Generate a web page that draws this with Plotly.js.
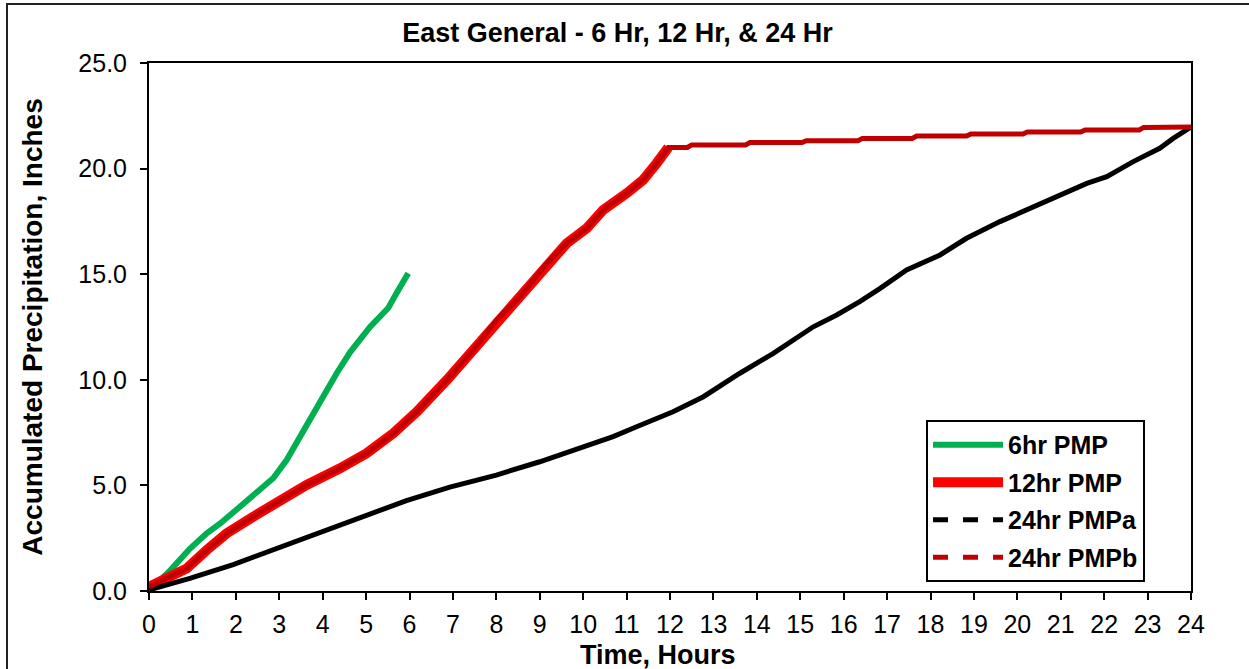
<!DOCTYPE html>
<html>
<head>
<meta charset="utf-8">
<script src="https://cdn.plot.ly/plotly-3.0.1.min.js"></script>
<style>
  html, body { margin: 0; padding: 0; background: #ffffff; }
  #wrap { position: relative; width: 1249px; height: 669px; overflow: hidden; }
  #chart { width: 1249px; height: 669px; }
  #frame { position: absolute; left: 6px; top: 3px; width: 1400px; height: 800px;
           border-left: 2px solid #222; border-top: 2px solid #222; pointer-events: none; }
</style>
</head>
<body>
<div id="wrap">
  <div id="chart"></div>
  <div id="frame"></div>
</div>
<script>
// ---- Data ----
var seriesNames = ["6hr PMP", "12hr PMP", "24hr PMPa", "24hr PMPb"];

var time6 = [0, 0.25, 0.5, 0.94, 1.33, 1.64, 2.1, 2.33, 2.86, 3.17, 3.4, 3.78, 4.01, 4.32, 4.63, 5.09, 5.51, 5.7, 5.97];
var precip6 = [0.1, 0.5, 1.0, 2.0, 2.73, 3.2, 4.0, 4.39, 5.34, 6.2, 7.05, 8.41, 9.2, 10.3, 11.3, 12.5, 13.4, 14.1, 15.05];

var time12 = [0, 0.56, 0.87, 1.33, 1.79, 2.4, 3.02, 3.63, 4.4, 5.01, 5.63, 6.17, 6.86, 7.47, 8.01, 8.54, 9.16, 9.62, 10.08, 10.46, 11.0, 11.38, 11.69, 11.96];
var precip12 = [0.2, 0.76, 1.07, 1.94, 2.73, 3.52, 4.31, 5.02, 5.81, 6.52, 7.47, 8.49, 9.99, 11.41, 12.83, 13.93, 15.51, 16.46, 17.17, 18.04, 18.83, 19.46, 20.25, 21.0];

var time24a = [0, 0.94, 1.94, 2.94, 3.94, 4.94, 5.93, 6.93, 8.0, 9.0, 9.77, 10.69, 11.23, 12.07, 12.77, 13.61, 14.38, 15.3, 15.84, 16.37, 16.84, 17.45, 18.22, 18.83, 19.6, 20.37, 20.98, 21.6, 22.06, 22.67, 23.28, 23.59, 24];
var precip24a = [0.05, 0.6, 1.25, 2.0, 2.78, 3.55, 4.28, 4.92, 5.49, 6.12, 6.68, 7.31, 7.78, 8.49, 9.2, 10.31, 11.25, 12.51, 13.07, 13.7, 14.33, 15.2, 15.91, 16.7, 17.49, 18.2, 18.75, 19.3, 19.62, 20.33, 20.96, 21.43, 21.97];

// 24hr PMPb follows the 12hr curve, then continues with these late steps
var time24bTail = [12.4, 12.5, 13.74, 13.84, 15.04, 15.14, 16.33, 16.43, 17.58, 17.68, 18.83, 18.93, 20.13, 20.23, 21.46, 21.56, 22.81, 22.91, 24];
var precip24bTail = [21.0, 21.12, 21.12, 21.23, 21.23, 21.32, 21.32, 21.43, 21.43, 21.54, 21.54, 21.64, 21.64, 21.73, 21.73, 21.83, 21.83, 21.95, 21.97];

var xTicks = [0,1,2,3,4,5,6,7,8,9,10,11,12,13,14,15,16,17,18,19,20,21,22,23,24];
var yTicks = [0, 5, 10, 15, 20, 25];

// ---- Build ----
var time24b = time12.concat(time24bTail);
var precip24b = precip12.concat(precip24bTail);

var FONT = '"Liberation Sans", Arial, Helvetica, sans-serif';
var cGreen = '#00B050', cRed = '#FF0000', cBlack = '#000000', cDark = '#C00000';

var traces = [
  {x: time6, y: precip6, mode: 'lines', line: {color: cGreen, width: 6}, showlegend: false, hoverinfo: 'skip'},
  {x: time12, y: precip12, mode: 'lines', line: {color: cRed, width: 10}, showlegend: false, hoverinfo: 'skip'},
  {x: time24a, y: precip24a, mode: 'lines', line: {color: cBlack, width: 5}, showlegend: false, hoverinfo: 'skip'},
  {x: time24b, y: precip24b, mode: 'lines', line: {color: cDark, width: 5}, showlegend: false, hoverinfo: 'skip'},
  // legend entries
  {x: [null], y: [null], mode: 'lines', name: seriesNames[0], legendgroup: 'a', line: {color: cGreen, width: 6}},
  {x: [null], y: [null], mode: 'lines', name: seriesNames[1], legendgroup: 'b', line: {color: cRed, width: 10}},
  {x: [null], y: [null], mode: 'lines', name: seriesNames[2], legendgroup: 'c', line: {color: cBlack, width: 5, dash: 'dash'}},
  {x: [null], y: [null], mode: 'lines', name: seriesNames[3], legendgroup: 'd', line: {color: cDark, width: 5, dash: 'dash'}}
];

traces.forEach(function(t){ if (t.name) t.name = '<b>' + t.name + '</b>'; });

var layout = {
  width: 1249, height: 669,
  margin: {l: 149, r: 58, t: 63, b: 78},
  paper_bgcolor: '#ffffff', plot_bgcolor: '#ffffff',
  font: {family: FONT, color: '#000000', size: 25},
  title: {text: '<b>East General - 6 Hr, 12 Hr, & 24 Hr</b>', font: {family: FONT, size: 27, color: '#000'},
          x: 0.4944, xref: 'container', xanchor: 'center', y: 0.952, yref: 'container', yanchor: 'middle'},
  xaxis: {
    range: [0, 24], tickvals: xTicks, ticktext: xTicks.map(String),
    showgrid: false, zeroline: false, showline: true, mirror: true, linecolor: '#000', linewidth: 2,
    ticks: 'outside', ticklen: 7, tickwidth: 2, tickcolor: '#000',
    tickfont: {family: FONT, size: 25}, ticklabelstandoff: 3
  },
  yaxis: {
    range: [0, 25], tickvals: yTicks, ticktext: yTicks.map(function(v){return v.toFixed(1);}),
    showgrid: false, zeroline: false, showline: true, mirror: true, linecolor: '#000', linewidth: 2,
    ticks: 'outside', ticklen: 7, tickwidth: 2, tickcolor: '#000',
    tickfont: {family: FONT, size: 25}, ticklabelstandoff: 8,
    title: {text: '<b>Accumulated Precipitation, Inches</b>', font: {family: FONT, size: 28}, standoff: 28}
  },
  annotations: [
    {text: '<b>Time, Hours</b>', xref: 'paper', yref: 'paper', x: 0.4885, y: -0.121,
     xanchor: 'center', yanchor: 'middle', showarrow: false, font: {family: FONT, size: 27, color: '#000'}}
  ],
  legend: {
    x: 0.7457, y: 0.3239, xanchor: 'left', yanchor: 'top',
    bgcolor: '#ffffff', bordercolor: '#000', borderwidth: 2,
    font: {family: FONT, size: 25}, tracegroupgap: 2, itemwidth: 70
  },
  showlegend: true
};

Plotly.newPlot('chart', traces, layout, {staticPlot: true, displayModeBar: false});
</script>
</body>
</html>
